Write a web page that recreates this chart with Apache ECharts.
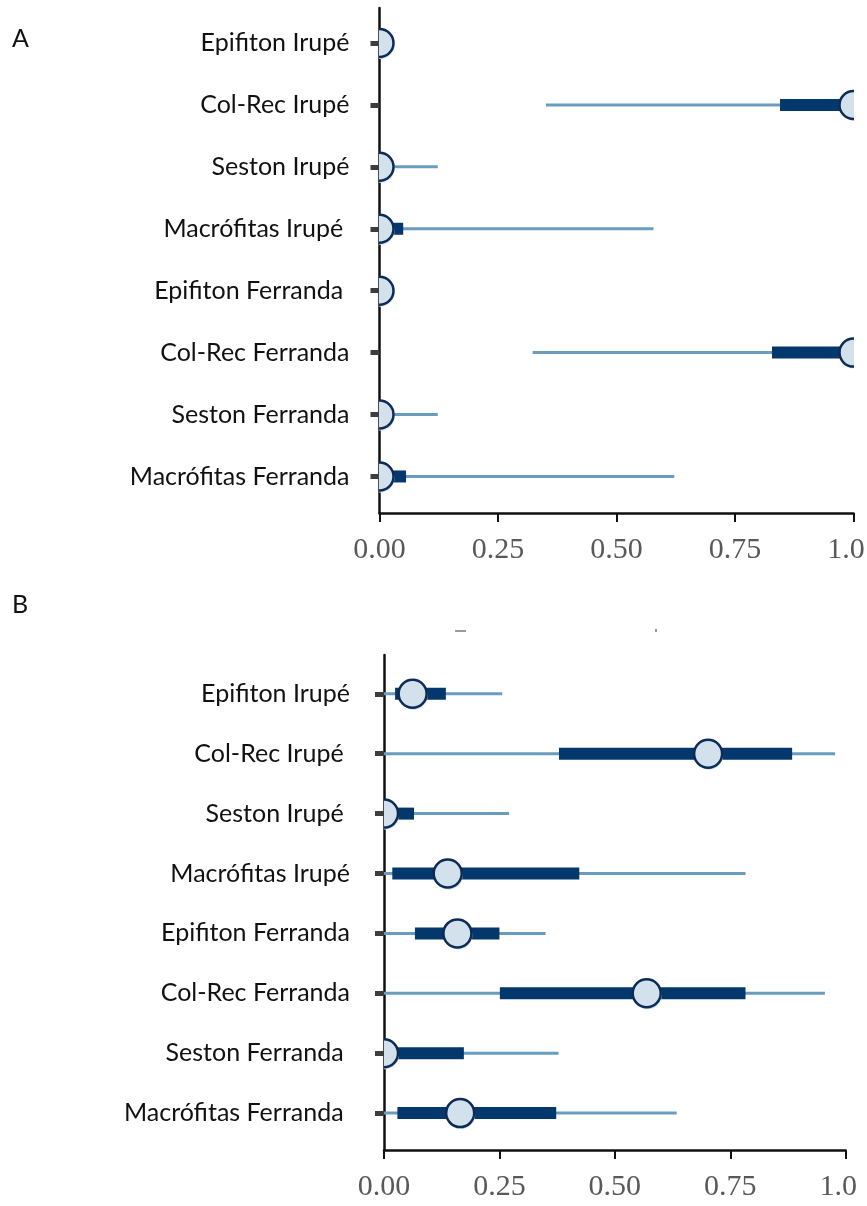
<!DOCTYPE html>
<html>
<head>
<meta charset="utf-8">
<script src="https://cdn.jsdelivr.net/npm/echarts@6/dist/echarts.min.js"></script>
<style>
  html, body { margin: 0; padding: 0; background: #ffffff; }
  #wrap { position: relative; width: 867px; height: 1206px; overflow: hidden; }
  #panelA { position: absolute; left: 0; top: 0; width: 865px; height: 590px; overflow: hidden; }
  #panelB { position: absolute; left: 0; top: 590px; width: 857px; height: 616px; overflow: hidden; }
</style>
</head>
<body>
<div id="wrap">
  <div id="panelA"></div>
  <div id="panelB"></div>
</div>
<script>
// Row names (top to bottom); trailing spaces as typed in each panel
const categoriesA = ['Epifiton Irupé', 'Col-Rec Irupé', 'Seston Irupé', 'Macrófitas Irupé ',
  'Epifiton Ferranda ', 'Col-Rec Ferranda', 'Seston Ferranda', 'Macrófitas Ferranda'];
const categoriesB = ['Epifiton Irupé', 'Col-Rec Irupé ', 'Seston Irupé ', 'Macrófitas Irupé',
  'Epifiton Ferranda', 'Col-Rec Ferranda', 'Seston Ferranda ', 'Macrófitas Ferranda '];

const xTickLabels = ['0.00', '0.25', '0.50', '0.75', '1.00'];

// Panel A: point estimate, inner (thick) interval, outer (thin) interval
const medianA    = [0, 1.00, 0, 0, 0, 1.00, 0, 0];
const innerLowA  = [0, 0.845, 0, 0, 0, 0.828, 0, 0];
const innerHighA = [0.004, 1.00, 0.010, 0.050, 0.004, 1.00, 0.010, 0.056];
const outerLowA  = [0, 0.351, 0, 0, 0, 0.323, 0, 0];
const outerHighA = [0.005, 1.00, 0.123, 0.578, 0.005, 1.00, 0.123, 0.622];

// Panel B
const medianB    = [0.062, 0.702, 0, 0.138, 0.159, 0.569, 0, 0.165];
const innerLowB  = [0.024, 0.379, 0, 0.018, 0.067, 0.251, 0, 0.029];
const innerHighB = [0.134, 0.884, 0.065, 0.423, 0.250, 0.783, 0.173, 0.373];
const outerLowB  = [0, 0, 0, 0, 0, 0, 0, 0];
const outerHighB = [0.256, 0.977, 0.271, 0.783, 0.350, 0.955, 0.378, 0.634];

const COL_THIN = '#6a9cbf';
const COL_THICK = '#04386c';
const COL_FILL = '#d2e1ec';
const COL_EDGE = '#0c2b55';

function intervalSeries(median, iLo, iHi, oLo, oHi) {
  const data = median.map((m, i) => [i, m, iLo[i], iHi[i], oLo[i], oHi[i]]);
  return {
    type: 'custom',
    clip: true,
    data: data,
    encode: { x: [1, 2, 3, 4, 5], y: 0 },
    renderItem: function (params, api) {
      const row = api.value(0);
      const c = api.coord([api.value(1), row]);
      const a = api.coord([api.value(2), row]);
      const b = api.coord([api.value(3), row]);
      const p = api.coord([api.value(4), row]);
      const q = api.coord([api.value(5), row]);
      const r = 14;
      return {
        type: 'group',
        children: [
          { type: 'line', shape: { x1: p[0], y1: p[1], x2: q[0], y2: q[1] },
            style: { stroke: COL_THIN, lineWidth: 3 } },
          { type: 'rect', shape: { x: a[0], y: a[1] - 6, width: Math.max(b[0] - a[0], 0), height: 12 },
            style: { fill: COL_THICK } },
          { type: 'circle', shape: { cx: c[0] + 1, cy: c[1] + 2, r: r },
            style: { fill: COL_FILL } },
          { type: 'circle', shape: { cx: c[0], cy: c[1], r: r },
            style: { fill: COL_FILL, stroke: COL_EDGE, lineWidth: 2.5 } }
        ]
      };
    }
  };
}

function panelOption(cfg) {
  return {
    animation: false,
    backgroundColor: '#ffffff',
    grid: {
      left: cfg.left, right: cfg.right, top: cfg.top, height: cfg.height,
      containLabel: false, outerBoundsMode: 'none'
    },
    xAxis: {
      type: 'value', min: 0, max: 1, interval: 0.25, position: 'bottom',
      axisLine: { onZero: false, lineStyle: { color: '#111', width: 2.5 } },
      axisTick: { show: true, length: 9, lineStyle: { color: '#111', width: 2 } },
      splitLine: { show: false },
      axisLabel: {
        margin: 22,
        color: '#595959',
        fontFamily: 'Liberation Serif',
        fontSize: 30,
        showMaxLabel: true,
        hideOverlap: false,
        formatter: function (v) { return xTickLabels[Math.round(v / 0.25)]; }
      }
    },
    yAxis: {
      type: 'value', inverse: true, min: cfg.yMin, max: cfg.yMax, position: 'left',
      axisLine: { show: true, onZero: false, lineStyle: { color: '#111', width: 2.5 } },
      axisTick: { show: true, length: 9, customValues: [0, 1, 2, 3, 4, 5, 6, 7],
        lineStyle: { color: '#3d3d3d', width: 5 } },
      splitLine: { show: false },
      axisLabel: {
        customValues: [0, 1, 2, 3, 4, 5, 6, 7],
        margin: cfg.labelMargin,
        color: '#111',
        fontFamily: 'Lato',
        fontSize: 25,
        formatter: function (v) { return cfg.categories[Math.round(v)]; }
      }
    },
    graphic: cfg.graphic,
    series: [intervalSeries(cfg.median, cfg.iLo, cfg.iHi, cfg.oLo, cfg.oHi)]
  };
}

const chartA = echarts.init(document.getElementById('panelA'), null, { renderer: 'canvas' });
chartA.setOption(panelOption({
  left: 379.5, right: 11.5, top: 8, height: 505,
  yMin: -0.565, yMax: 7.59, labelMargin: 30,
  categories: categoriesA,
  median: medianA, iLo: innerLowA, iHi: innerHighA, oLo: outerLowA, oHi: outerHighA,
  graphic: [
    { type: 'text', left: 12, top: 26,
      style: { text: 'A', font: '25px Lato', fill: '#111' } }
  ]
}));

const chartB = echarts.init(document.getElementById('panelB'), null, { renderer: 'canvas' });
chartB.setOption(panelOption({
  left: 384, right: 11.3, top: 65, height: 495,
  yMin: -0.648, yMax: 7.616, labelMargin: 34,
  categories: categoriesB,
  median: medianB, iLo: innerLowB, iHi: innerHighB, oLo: outerLowB, oHi: outerHighB,
  graphic: [
    { type: 'text', left: 12, top: 2,
      style: { text: 'B', font: '25px Lato', fill: '#111' } },
    { type: 'rect', left: 455, top: 40, shape: { width: 11, height: 2 }, style: { fill: '#9a9a9a' } },
    { type: 'rect', left: 655, top: 39, shape: { width: 2, height: 3 }, style: { fill: '#9a9a9a' } }
  ]
}));
</script>
</body>
</html>
